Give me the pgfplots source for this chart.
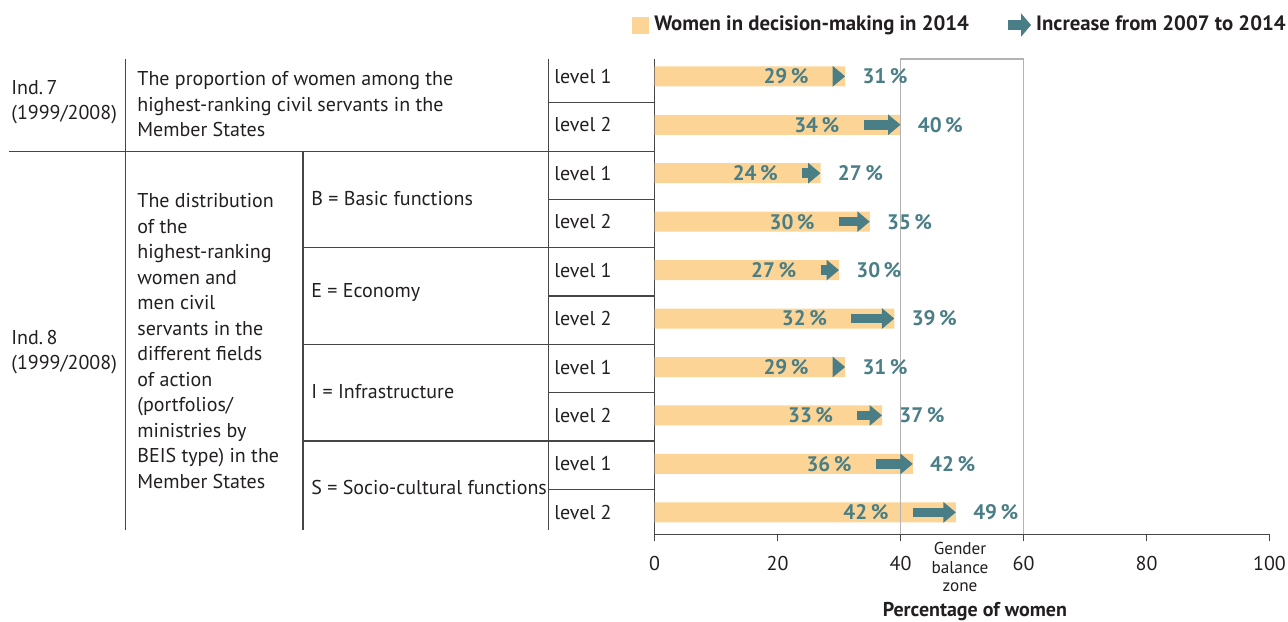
\documentclass[border=0pt]{standalone}
\usepackage{pgfplots}
\pgfplotsset{compat=1.18}
\usepackage{pgfplotstable}
\usepackage{fontspec}
\setmainfont{PT Sans}
\usetikzlibrary{arrows.meta}
\definecolor{barcol}{RGB}{252,213,150}
\definecolor{arrcol}{RGB}{74,126,134}
\definecolor{txtcol}{RGB}{35,31,32}
\definecolor{zonecol}{RGB}{178,178,178}
\definecolor{linecol}{RGB}{70,70,70}

\pgfplotstableread{
y  w07 w14 inc
10 29 31 2
9  34 40 6
8  24 27 3
7  30 35 5
6  27 30 3
5  32 39 7
4  29 31 2
3  33 37 4
2  36 42 6
1  42 49 7
}\data

\begin{document}
\begin{tikzpicture}[x=0.5pt,y=0.5pt]
\path[use as bounding box] (0,0) rectangle (1288,621);
\begin{axis}[
  at={(327.25pt,43.35pt)}, anchor=south west,
  width=307.5pt, height=237.65pt, scale only axis,
  xmin=0, xmax=100, ymin=0.547, ymax=10.357,
  axis x line*=bottom, axis y line*=left,
  axis line style={draw=linecol, line width=0.6pt, -},
  xtick={0,20,...,100}, tick align=outside, major tick length=3.5pt,
  x tick style={draw=linecol, line width=0.6pt},
  ytick={1,...,10},
  yticklabels={level 2,level 1,level 2,level 1,level 2,level 1,level 2,level 1,level 2,level 1},
  y tick style={draw=none},
  yticklabel style={anchor=west, xshift=-46.75pt, inner sep=0pt, font=\fontsize{10}{12}\selectfont, text=txtcol},
  xticklabel style={font=\fontsize{10}{12}\selectfont, text=txtcol, yshift=-4pt},
  /pgf/number format/assume math mode=true,
  clip=false,
  xlabel={Percentage of women},
  xlabel style={at={(axis description cs:0.521,0)}, anchor=center, yshift=-38.6pt, font=\bfseries\fontsize{10}{12}\selectfont, text=txtcol},
  legend style={draw=none, fill=none, inner sep=0pt, outer sep=0pt,
    at={(axis description cs:-0.0361,1.0715)}, anchor=west,
    font=\bfseries\fontsize{10.4}{12}\selectfont, text=txtcol,
    /tikz/every odd column/.append style={column sep=2.6pt},
    /tikz/every even column/.append style={column sep=19.5pt},
    nodes={inner sep=0pt}},
  legend columns=-1, legend cell align=left,
]
\addplot[xbar, bar width=10pt, fill=barcol, draw=none, forget plot] table[x=w14, y=y]{\data};
\addplot[zonecol, line width=0.75pt, forget plot] coordinates {(40,0.547) (40,10.357) (60,10.357) (60,0.547)};
\addplot[forget plot, arrcol, line width=4.75pt, -{Triangle[length=6.25pt,width=10pt]},
  quiver={u=\thisrow{inc}, v=0}] table[x=w07, y=y]{\data};
\addplot[forget plot, only marks, mark=none, point meta=x,
  nodes near coords={\pgfmathprintnumber{\pgfplotspointmeta}\,\%},
  every node near coord/.style={anchor=east, xshift=-12pt, inner sep=0pt, font=\bfseries\fontsize{10.5}{12}\selectfont, text=arrcol}]
  table[x=w07, y=y]{\data};
\addplot[forget plot, only marks, mark=none, point meta=x,
  nodes near coords={\pgfmathprintnumber{\pgfplotspointmeta}\,\%},
  every node near coord/.style={anchor=west, xshift=8.5pt, inner sep=0pt, font=\bfseries\fontsize{10.5}{12}\selectfont, text=arrcol}]
  table[x=w14, y=y]{\data};
\addlegendimage{legend image code/.code={\fill[barcol] (0pt,-4pt) rectangle (8pt,4pt);}}
\addlegendentry{Women in decision-making in 2014}
\addlegendimage{legend image code/.code={\draw[overlay, arrcol, line width=5pt, -{Triangle[length=5pt,width=11.5pt]}] (0pt,0pt) -- (11.5pt,0pt); \path[draw=none, fill=none] (0pt,-5.75pt) rectangle (11.5pt,5.75pt);}}
\addlegendentry{Increase from 2007 to 2014}
\end{axis}
% table grid
\begin{scope}[draw=linecol, line width=0.55pt]
\draw (125.7,562) -- (125.7,91);
\draw (303,469.7) -- (303,91);
\draw (548.3,562) -- (548.3,91);
\draw (548.3,518.3) -- (654.5,518.3);
\draw (9.3,469.7) -- (654.5,469.7);
\draw (548.3,421.7) -- (654.5,421.7);
\draw (303,373.3) -- (654.5,373.3);
\draw (548.3,325) -- (654.5,325);
\draw (303,276.7) -- (654.5,276.7);
\draw (548.3,228.7) -- (654.5,228.7);
\draw (303,180) -- (654.5,180);
\draw (548.3,131.7) -- (654.5,131.7);
\end{scope}
\begin{scope}[every node/.style={inner sep=0pt, text=txtcol, font=\fontsize{10}{12.75}\selectfont, align=left, anchor=west}]
\node at (11,518.8) {Ind.\,7\\(1999/2008)};
\node at (137,516.8) {The proportion of women among the\\highest-ranking civil servants in the\\Member States};
\node at (11,269) {Ind.\,8\\(1999/2008)};
\node at (137,280) {The distribution\\of the\\highest-ranking\\women and\\men civil\\servants in the\\different fields\\of action\\(portfolios/\\ministries by\\BEIS type) in the\\Member States};
\node at (311,422) {B = Basic functions};
\node at (311,328) {E = Economy};
\node at (311,229) {I = Infrastructure};
\node at (311,134) {S = Socio-cultural functions};
\end{scope}
\node[inner sep=0pt, align=center, text=txtcol, font=\fontsize{8.6}{9.25}\selectfont] at (960,54) {Gender\\balance\\zone};
\end{tikzpicture}
\end{document}
